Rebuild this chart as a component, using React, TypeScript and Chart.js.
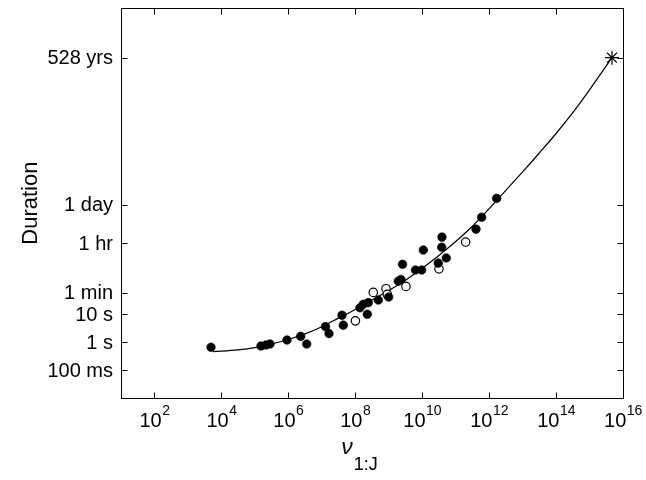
import React, { useEffect, useRef } from "react";
import { Chart, registerables } from "chart.js";

Chart.register(...registerables);

// Filled circles (nu, duration in seconds)
const filledX = [4.89e3, 1.52e5, 2.15e5, 2.83e5, 9.12e5, 2.34e6, 3.53e6, 1.29e7, 1.64e7, 4.01e7, 4.39e7, 1.38e8, 1.73e8, 2.29e8, 2.45e8, 4.88e8, 9.95e8, 1.93e9, 2.32e9, 2.58e9, 6.3e9, 9.64e9, 1.08e10, 3.02e10, 3.9e10, 3.82e10, 5.24e10, 4.05e11, 5.98e11, 1.68e12];
const filledY = [0.664, 0.738, 0.802, 0.869, 1.21, 1.64, 0.869, 3.66, 2.06, 9.4, 4.14, 17.4, 23.2, 10.2, 26.7, 33.0, 42.3, 157, 181, 634, 394, 394, 2070, 700, 6012, 2600, 1072, 11590, 31050, 147600];

// Open circles
const openX = [1.01e8, 3.45e8, 8.28e8, 9.04e8, 3.27e9, 3.17e10, 1.99e11];
const openY = [5.89, 62.1, 84.1, 52.7, 102, 435, 3990];

// Asterisk (528 yrs)
const starX = [4.68e15];
const starY = [16662412800];

// Fitted curve
const curveX = [5.62e3, 3.16e4, 1e5, 3.16e5, 1e6, 3.16e6, 1e7, 3.16e7, 1e8, 3.16e8, 1e9, 3.16e9, 1e10, 3.16e10, 1e11, 3.16e11, 1e12, 3.16e12, 1e13, 3.16e13, 1e14, 3.16e14, 1e15, 4.68e15];
const curveY = [0.462, 0.537, 0.646, 0.871, 1.26, 2.0, 3.63, 7.41, 15.1, 33.1, 72.4, 170, 457, 1318, 4169, 14791, 63096, 288403, 1.318e6, 6.31e6, 3.16e7, 1.778e8, 1.175e9, 16662412800];

const xTickValues = [1e2, 1e4, 1e6, 1e8, 1e10, 1e12, 1e14, 1e16];
const xTickExponents = ["2", "4", "6", "8", "10", "12", "14", "16"];
const yTickValues = [0.1, 1, 10, 60, 3600, 86400, 16662412800];
const yTickLabels = ["100 ms", "1 s", "10 s", "1 min", "1 hr", "1 day", "528 yrs"];

const FONT = '"Liberation Sans", Arial, sans-serif';

const framePlugin = {
  id: "frame",
  afterDraw(chart: any) {
    const { ctx, chartArea: a, scales } = chart;
    const xs = scales.x;
    const ys = scales.y;
    ctx.save();
    ctx.strokeStyle = "#000";
    ctx.lineWidth = 1;
    const L = Math.round(a.left) + 0.5;
    const R = Math.round(a.right) + 0.5;
    const T = Math.round(a.top) + 0.5;
    const B = Math.round(a.bottom) + 0.5;
    ctx.strokeRect(L, T, R - L, B - T);
    ctx.beginPath();
    xTickValues.forEach((v) => {
      const px = Math.round(xs.getPixelForValue(v)) + 0.5;
      ctx.moveTo(px, B);
      ctx.lineTo(px, B - 6);
      ctx.moveTo(px, T);
      ctx.lineTo(px, T + 6);
    });
    yTickValues.forEach((v) => {
      const py = Math.round(ys.getPixelForValue(v)) + 0.5;
      ctx.moveTo(L, py);
      ctx.lineTo(L + 6, py);
      ctx.moveTo(R, py);
      ctx.lineTo(R - 6, py);
    });
    ctx.stroke();

    ctx.fillStyle = "#000";
    // y tick labels
    ctx.font = `20px ${FONT}`;
    ctx.textAlign = "right";
    ctx.textBaseline = "middle";
    yTickValues.forEach((v, i) => {
      const py = ys.getPixelForValue(v);
      ctx.fillText(yTickLabels[i], a.left - 8, py + 1);
    });

    // x tick labels: 10 with superscript exponent
    ctx.textAlign = "left";
    ctx.textBaseline = "alphabetic";
    xTickValues.forEach((v, i) => {
      const px = xs.getPixelForValue(v);
      ctx.font = `20px ${FONT}`;
      const wBase = ctx.measureText("10").width;
      ctx.font = `14px ${FONT}`;
      const wExp = ctx.measureText(xTickExponents[i]).width;
      const x0 = px - (wBase + wExp) / 2;
      ctx.font = `20px ${FONT}`;
      ctx.fillText("10", x0, 427);
      ctx.font = `14px ${FONT}`;
      ctx.fillText(xTickExponents[i], x0 + wBase + 0.5, 415);
    });

    // x axis title: nu_{1:J}
    const cx = (a.left + a.right) / 2 - 13;
    ctx.font = `italic 23px ${FONT}`;
    const wNu = ctx.measureText("\u03BD").width;
    ctx.font = `18px ${FONT}`;
    const wSub = ctx.measureText("1:J").width;
    const sx = cx - (wNu + wSub) / 2;
    ctx.font = `italic 23px ${FONT}`;
    ctx.fillText("\u03BD", sx, 454);
    ctx.font = `18px ${FONT}`;
    ctx.fillText("1:J", sx + wNu + 1, 470);

    // y axis title
    ctx.save();
    ctx.translate(31, (a.top + a.bottom) / 2);
    ctx.rotate(-Math.PI / 2);
    ctx.font = `22px ${FONT}`;
    ctx.textAlign = "center";
    ctx.textBaseline = "middle";
    ctx.fillText("Duration", 0, 0);
    ctx.restore();

    ctx.restore();
  },
};

export default function App() {
  const ref = useRef<HTMLCanvasElement | null>(null);
  useEffect(() => {
    if (!ref.current) return;
    const toPts = (xs: number[], ys: number[]) => xs.map((x, i) => ({ x, y: ys[i] }));
    const chart = new Chart(ref.current, {
      type: "scatter",
      data: {
        datasets: [
          {
            type: "line",
            data: toPts(curveX, curveY),
            borderColor: "#000",
            borderWidth: 1.2,
            pointRadius: 0,
            fill: false,
            cubicInterpolationMode: "monotone",
            order: 4,
          } as any,
          {
            data: toPts(openX, openY),
            pointStyle: "circle",
            pointRadius: 4.2,
            pointBackgroundColor: "#fff",
            pointBorderColor: "#000",
            pointBorderWidth: 1.2,
            order: 3,
          },
          {
            data: toPts(filledX, filledY),
            pointStyle: "circle",
            pointRadius: 4.3,
            pointBackgroundColor: "#000",
            pointBorderColor: "#000",
            pointBorderWidth: 0.6,
            order: 2,
          },
          {
            data: toPts(starX, starY),
            pointStyle: "star",
            pointRadius: 7,
            pointBackgroundColor: "#000",
            pointBorderColor: "#000",
            pointBorderWidth: 1.2,
            order: 1,
          },
        ],
      },
      options: {
        animation: false,
        responsive: false,
        devicePixelRatio: 1,
        layout: { padding: { left: 121, right: 23, top: 8, bottom: 82 } },
        plugins: { legend: { display: false }, tooltip: { enabled: false } },
        scales: {
          x: { type: "logarithmic", min: 10, max: 1e16, display: false },
          y: { type: "logarithmic", min: 0.01, max: 1e12, display: false },
        },
      },
      plugins: [framePlugin],
    });
    return () => chart.destroy();
  }, []);
  return (
    <div style={{ position: "absolute", left: 0, top: 0, width: 646, height: 480, background: "#fff" }}>
      <canvas ref={ref} width={646} height={480} style={{ width: 646, height: 480, display: "block" }} />
    </div>
  );
}
